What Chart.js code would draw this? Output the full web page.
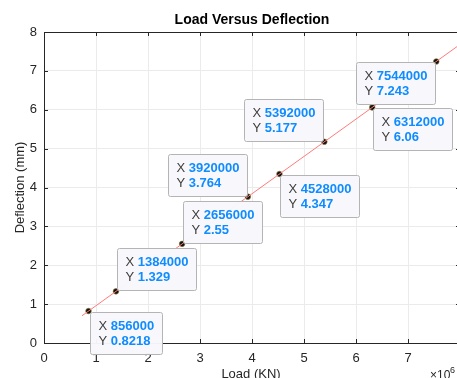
<!DOCTYPE html>
<html>
<head>
<meta charset="utf-8">
<script src="https://cdn.jsdelivr.net/npm/chart.js@4"></script>
<style>
  html, body { margin: 0; padding: 0; background: #fff; overflow: hidden; }
  #wrap { width: 457px; height: 378px; overflow: hidden; }
</style>
</head>
<body>
<div id="wrap"><canvas id="load-defl" width="480" height="378"></canvas></div>
<script>
// data
const loadKN = [856000, 1384000, 2656000, 3920000, 4528000, 5392000, 6312000, 7544000];
const deflection = [0.8218, 1.329, 2.55, 3.764, 4.347, 5.177, 6.06, 7.243];
const fitX = [730000, 8000000];
const fitY = [0.70, 7.68];
const xTicks = [0, 1, 2, 3, 4, 5, 6, 7, 8];
const yTicks = [0, 1, 2, 3, 4, 5, 6, 7, 8];

// where each data tip sits relative to its point
const tipSide = ['br', 'tr', 'tr', 'tl', 'br', 'tl', 'br', 'bl'];

const axisColor = '#262626';
const gridColor = '#ebebeb';
const blue = '#0f8cff';

// matlab-ish box, inner ticks, labels and data tips
const matlabLook = {
  id: 'matlabLook',
  afterDraw(chart) {
    const ctx = chart.ctx;
    const a = chart.chartArea;
    const xs = chart.scales.x, ys = chart.scales.y;
    ctx.save();
    ctx.strokeStyle = axisColor;
    ctx.lineWidth = 1;
    ctx.strokeRect(a.left + 0.5, a.top + 0.5, a.right - a.left, a.bottom - a.top);
    // inward ticks
    ctx.beginPath();
    xTicks.forEach(t => {
      const px = Math.round(xs.getPixelForValue(t * 1e6)) + 0.5;
      ctx.moveTo(px, a.bottom); ctx.lineTo(px, a.bottom - 4);
      ctx.moveTo(px, a.top); ctx.lineTo(px, a.top + 4);
    });
    yTicks.forEach(t => {
      const py = Math.round(ys.getPixelForValue(t)) + 0.5;
      ctx.moveTo(a.left, py); ctx.lineTo(a.left + 4, py);
      ctx.moveTo(a.right, py); ctx.lineTo(a.right - 4, py);
    });
    ctx.stroke();

    // titles
    ctx.fillStyle = '#000';
    ctx.font = 'bold 14px "Liberation Sans", Arial, sans-serif';
    ctx.textAlign = 'center';
    ctx.textBaseline = 'middle';
    ctx.fillText('Load Versus Deflection', 252, 20);
    ctx.fillStyle = axisColor;
    ctx.font = '13px "Liberation Sans", Arial, sans-serif';
    ctx.fillText('Load (KN)', 251, 374);
    ctx.save();
    ctx.translate(20, (a.top + a.bottom) / 2);
    ctx.rotate(-Math.PI / 2);
    ctx.fillText('Deflection (mm)', 0, 0);
    ctx.restore();
    ctx.textAlign = 'left';
    ctx.font = '12px "Liberation Sans", Arial, sans-serif';
    ctx.fillText('\u00d710', 430, 376);
    ctx.font = '9px "Liberation Sans", Arial, sans-serif';
    ctx.fillText('6', 450, 371);

    // data tips
    const lblFont = '13px "Liberation Sans", Arial, sans-serif';
    const valFont = 'bold 13px "Liberation Sans", Arial, sans-serif';
    const meta = chart.getDatasetMeta(1);
    meta.data.forEach((pt, i) => {
      const xv = String(loadKN[i]);
      const yv = String(deflection[i]);
      ctx.font = lblFont;
      const lw = ctx.measureText('X ').width;
      ctx.font = valFont;
      const vw = Math.max(ctx.measureText(xv).width, ctx.measureText(yv).width);
      const w = Math.round(lw + vw + 16);
      const h = 42;
      const side = tipSide[i];
      let bx = side[1] === 'r' ? pt.x + 1 : pt.x - w - 1;
      let by = side[0] === 'b' ? pt.y + 1 : pt.y - h - 1;
      bx = Math.round(bx) + 0.5; by = Math.round(by) + 0.5;
      ctx.fillStyle = 'rgba(248,248,252,0.97)';
      ctx.strokeStyle = '#b4b4b4';
      ctx.beginPath();
      ctx.roundRect(bx, by, w, h, 2);
      ctx.fill();
      ctx.stroke();
      ctx.textBaseline = 'middle';
      [['X', xv, 14], ['Y', yv, 29]].forEach(r => {
        ctx.font = lblFont;
        ctx.fillStyle = '#404040';
        ctx.fillText(r[0], bx + 8, by + r[2]);
        ctx.font = valFont;
        ctx.fillStyle = blue;
        ctx.fillText(r[1], bx + 8 + lw, by + r[2]);
      });
    });
    ctx.restore();
  }
};

const ctx = document.getElementById('load-defl').getContext('2d');
new Chart(ctx, {
  type: 'scatter',
  data: {
    datasets: [
      {
        label: 'fit',
        data: fitX.map((x, i) => ({ x: x, y: fitY[i] })),
        showLine: true,
        borderColor: '#ff7b7b',
        borderWidth: 1,
        pointRadius: 0
      },
      {
        label: 'points',
        data: loadKN.map((x, i) => ({ x: x, y: deflection[i] })),
        showLine: false,
        pointRadius: 2.8,
        pointBackgroundColor: '#111',
        pointBorderColor: '#8a7a30',
        pointBorderWidth: 0.6
      }
    ]
  },
  plugins: [matlabLook],
  options: {
    responsive: false,
    animation: false,
    layout: { padding: { top: 32, right: 20, left: 0, bottom: 0 } },
    plugins: {
      legend: { display: false },
      tooltip: { enabled: false },
      title: { display: false }
    },
    scales: {
      x: {
        type: 'linear',
        min: 0,
        max: 8000000,
        afterFit: s => { s.height = 35; },
        afterBuildTicks: s => { s.ticks = xTicks.map(v => ({ value: v * 1e6 })); },
        grid: { color: gridColor, drawTicks: false },
        border: { display: false },
        ticks: {
          padding: 8,
          color: axisColor,
          font: { size: 13, family: '"Liberation Sans", Arial, sans-serif' },
          maxRotation: 0,
          callback: v => v / 1e6
        }
      },
      y: {
        type: 'linear',
        min: 0,
        max: 8,
        afterFit: s => { s.width = 44; },
        afterBuildTicks: s => { s.ticks = yTicks.map(v => ({ value: v })); },
        grid: { color: gridColor, drawTicks: false },
        border: { display: false },
        ticks: {
          padding: 7,
          color: axisColor,
          font: { size: 13, family: '"Liberation Sans", Arial, sans-serif' }
        }
      }
    }
  }
});
</script>
</body>
</html>
